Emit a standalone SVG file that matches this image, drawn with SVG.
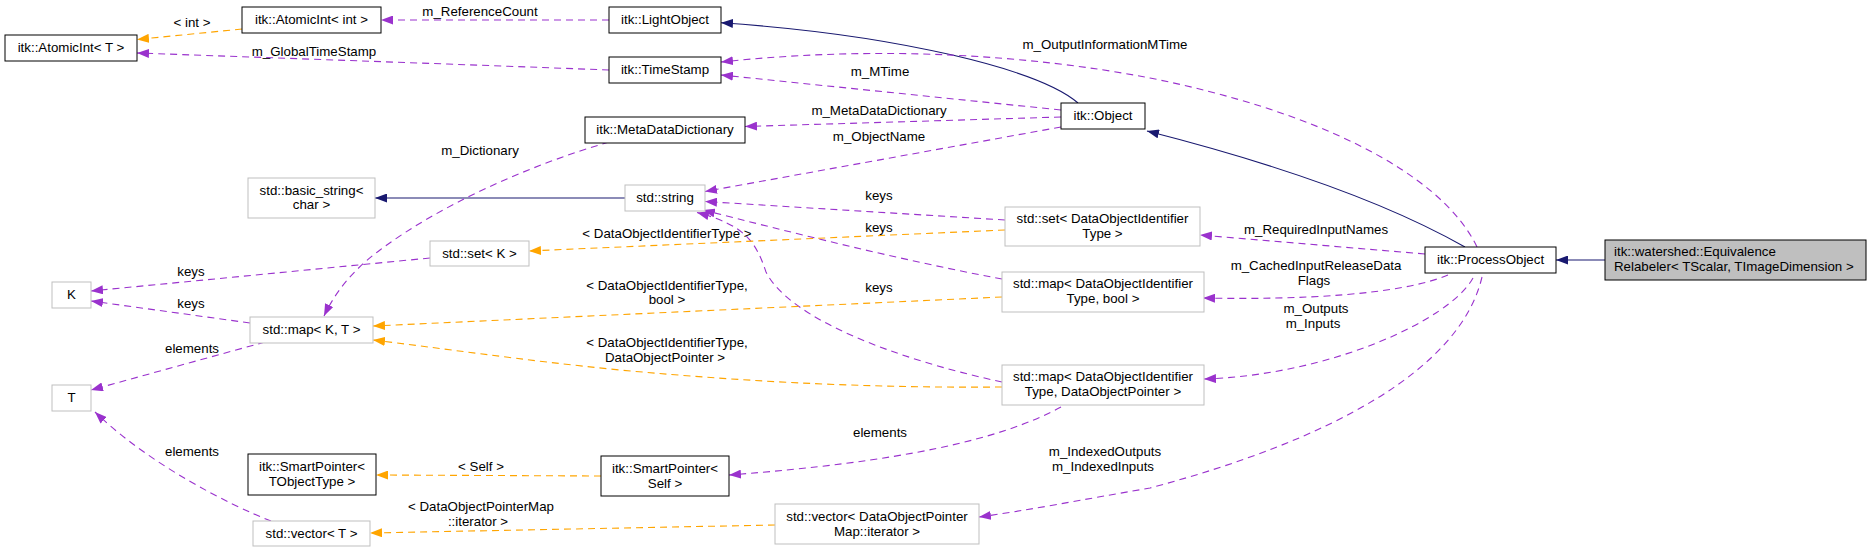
<svg xmlns="http://www.w3.org/2000/svg" width="1871" height="552" viewBox="0 0 1871 552">
<style>
text{font-family:"Liberation Sans",Arial,sans-serif;font-size:13.3px;fill:#000}
.n text{text-anchor:middle}
.doc{fill:#fff;stroke:#000;stroke-width:1}
.und{fill:#fff;stroke:#bfbfbf;stroke-width:1}
.main{fill:#bfbfbf;stroke:#000;stroke-width:1}
.lbl{text-anchor:middle}
.inh{fill:none;stroke:#191970;stroke-width:1.1}
.use{fill:none;stroke:#9a32cd;stroke-width:1.1;stroke-dasharray:7,5}
.tpl{fill:none;stroke:#ffa500;stroke-width:1.1;stroke-dasharray:7,5}
</style>
<defs>
<marker id="an" viewBox="0 0 12 9" refX="12" refY="4.5" markerWidth="12" markerHeight="9" markerUnits="userSpaceOnUse" orient="auto"><path d="M0,0 L12,4.5 L0,9 z" fill="#191970"/></marker>
<marker id="ap" viewBox="0 0 12 9" refX="12" refY="4.5" markerWidth="12" markerHeight="9" markerUnits="userSpaceOnUse" orient="auto"><path d="M0,0 L12,4.5 L0,9 z" fill="#9a32cd"/></marker>
<marker id="ao" viewBox="0 0 12 9" refX="12" refY="4.5" markerWidth="12" markerHeight="9" markerUnits="userSpaceOnUse" orient="auto"><path d="M0,0 L12,4.5 L0,9 z" fill="#ffa500"/></marker>
</defs>
<rect width="1871" height="552" fill="#fff"/>
<g id="connectors">
<path class="tpl" marker-end="url(#ao)" d="M242,29 L137,39.5"/>
<path class="use" marker-end="url(#ap)" d="M609,20 L381,20"/>
<path class="use" marker-end="url(#ap)" d="M609,70 C450,64 250,57 137,53"/>
<path class="inh" marker-end="url(#an)" d="M1078,103 C1040,70 900,35 721,22.7"/>
<path class="use" marker-end="url(#ap)" d="M1061,110 L721,75"/>
<path class="use" marker-end="url(#ap)" d="M1477,247 C1440,170 1310,110 1150,78 C1030,55 880,45 721,62"/>
<path class="use" marker-end="url(#ap)" d="M1061,117 L745,126.5"/>
<path class="use" marker-end="url(#ap)" d="M1061,127 L705,191.5"/>
<path class="inh" marker-end="url(#an)" d="M1465,247 C1400,210 1300,170 1147,131"/>
<path class="inh" marker-end="url(#an)" d="M625,198 L375,198"/>
<path class="use" marker-end="url(#ap)" d="M609,142 C530,165 440,205 380,250 C350,272 334,295 324,316"/>
<path class="use" marker-end="url(#ap)" d="M1005,220 L705,201.5"/>
<path class="use" marker-end="url(#ap)" d="M1002,279 C900,260 790,232 703,210"/>
<path class="use" marker-end="url(#ap)" d="M1002,382 C900,360 790,320 766,272 C756,242 745,225 697,212.5"/>
<path class="tpl" marker-end="url(#ao)" d="M1005,230 L529,251"/>
<path class="use" marker-end="url(#ap)" d="M430,258 L91,291"/>
<path class="use" marker-end="url(#ap)" d="M250,323 L91,301"/>
<path class="tpl" marker-end="url(#ao)" d="M1002,297 L373,326"/>
<path class="tpl" marker-end="url(#ao)" d="M1002,387 C880,388 760,383 620,370 C520,360 440,348 373,340"/>
<path class="use" marker-end="url(#ap)" d="M265,342 L91,390"/>
<path class="use" marker-end="url(#ap)" d="M271,521 C230,505 150,465 95,412"/>
<path class="tpl" marker-end="url(#ao)" d="M601,476 L376,475"/>
<path class="tpl" marker-end="url(#ao)" d="M775,525 L370,533"/>
<path class="use" marker-end="url(#ap)" d="M1061,407 C1000,440 900,462 729,475"/>
<path class="use" marker-end="url(#ap)" d="M1425,254 L1200,235"/>
<path class="use" marker-end="url(#ap)" d="M1448,275 C1400,295 1300,300 1203,298"/>
<path class="use" marker-end="url(#ap)" d="M1473,278 C1450,320 1330,375 1204,379"/>
<path class="use" marker-end="url(#ap)" d="M1482,277 C1460,370 1330,440 1150,488 C1080,500 1030,510 979,517"/>
<path class="inh" marker-end="url(#an)" d="M1605,260 L1556,260"/>
<g class="lbl">
<text x="192" y="27">&lt; int &gt;</text>
<text x="480" y="16">m_ReferenceCount</text>
<text x="314" y="56">m_GlobalTimeStamp</text>
<text x="880" y="76">m_MTime</text>
<text x="1105" y="49">m_OutputInformationMTime</text>
<text x="879" y="115">m_MetaDataDictionary</text>
<text x="879" y="141">m_ObjectName</text>
<text x="480" y="155">m_Dictionary</text>
<text x="879" y="200">keys</text>
<text x="879" y="232">keys</text>
<text x="879" y="292">keys</text>
<text x="667" y="238">&lt; DataObjectIdentifierType &gt;</text>
<text x="191" y="276">keys</text>
<text x="191" y="308">keys</text>
<text x="667" y="289.5">&lt; DataObjectIdentifierType,</text>
<text x="667" y="303.5">bool &gt;</text>
<text x="667" y="346.5">&lt; DataObjectIdentifierType,</text>
<text x="665" y="361.5">DataObjectPointer &gt;</text>
<text x="192" y="352.5">elements</text>
<text x="192" y="455.5">elements</text>
<text x="481" y="471">&lt; Self &gt;</text>
<text x="481" y="511">&lt; DataObjectPointerMap</text>
<text x="478" y="525.5">::iterator &gt;</text>
<text x="880" y="437">elements</text>
<text x="1316" y="233.5">m_RequiredInputNames</text>
<text x="1316" y="269.5">m_CachedInputReleaseData</text>
<text x="1314" y="284.5">Flags</text>
<text x="1316" y="313">m_Outputs</text>
<text x="1313" y="328">m_Inputs</text>
<text x="1105" y="456">m_IndexedOutputs</text>
<text x="1103" y="471">m_IndexedInputs</text>
</g>
</g>
<g class="n">
<g id="atomicint_t"><rect class="doc" x="5" y="35" width="132" height="26"/><text x="71" y="52">itk::AtomicInt&lt; T &gt;</text></g>
<g id="atomicint_int"><rect class="doc" x="242" y="7" width="139" height="26"/><text x="311.5" y="24">itk::AtomicInt&lt; int &gt;</text></g>
<g id="lightobject"><rect class="doc" x="609" y="7" width="112" height="26"/><text x="665" y="24">itk::LightObject</text></g>
<g id="timestamp"><rect class="doc" x="609" y="57" width="112" height="26"/><text x="665" y="74">itk::TimeStamp</text></g>
<g id="metadatadictionary"><rect class="doc" x="585" y="117" width="160" height="26"/><text x="665" y="134">itk::MetaDataDictionary</text></g>
<g id="object"><rect class="doc" x="1061" y="103" width="84" height="26"/><text x="1103" y="120">itk::Object</text></g>
<g id="basic_string"><rect class="und" x="248" y="178" width="127" height="40"/><text x="311.5" y="195">std::basic_string&lt;</text><text x="311.5" y="209">char &gt;</text></g>
<g id="string"><rect class="und" x="625" y="185" width="80" height="26"/><text x="665" y="202">std::string</text></g>
<g id="set_k"><rect class="und" x="430" y="241" width="99" height="25"/><text x="479.5" y="258">std::set&lt; K &gt;</text></g>
<g id="k"><rect class="und" x="52" y="282" width="39" height="26"/><text x="71.5" y="299">K</text></g>
<g id="map_kt"><rect class="und" x="250" y="317" width="123" height="26"/><text x="311.5" y="334">std::map&lt; K, T &gt;</text></g>
<g id="t"><rect class="und" x="52" y="385" width="39" height="26"/><text x="71.5" y="402">T</text></g>
<g id="smartpointer_tobjecttype"><rect class="doc" x="248" y="454" width="128" height="41"/><text x="312" y="471">itk::SmartPointer&lt;</text><text x="312" y="485.5">TObjectType &gt;</text></g>
<g id="vector_t"><rect class="und" x="253" y="521" width="117" height="25"/><text x="311.5" y="537.5">std::vector&lt; T &gt;</text></g>
<g id="smartpointer_self"><rect class="doc" x="601" y="456" width="128" height="40"/><text x="665" y="472.5">itk::SmartPointer&lt;</text><text x="665" y="487.5">Self &gt;</text></g>
<g id="vector_iterator"><rect class="und" x="775" y="504" width="204" height="40"/><text x="877" y="520.5">std::vector&lt; DataObjectPointer</text><text x="877" y="535.5">Map::iterator &gt;</text></g>
<g id="map_dop"><rect class="und" x="1002" y="365" width="202" height="40"/><text x="1103" y="381">std::map&lt; DataObjectIdentifier</text><text x="1103" y="396">Type, DataObjectPointer &gt;</text></g>
<g id="set_doit"><rect class="und" x="1005" y="207" width="195" height="39"/><text x="1102.5" y="223">std::set&lt; DataObjectIdentifier</text><text x="1102.5" y="237.5">Type &gt;</text></g>
<g id="map_bool"><rect class="und" x="1002" y="272" width="202" height="40"/><text x="1103" y="288">std::map&lt; DataObjectIdentifier</text><text x="1103" y="303">Type, bool &gt;</text></g>
<g id="processobject"><rect class="doc" x="1425" y="247" width="131" height="26"/><text x="1490.5" y="264">itk::ProcessObject</text></g>
<g id="equivalencerelabeler"><rect class="main" x="1605" y="240" width="261" height="40"/><text x="1614" y="256" style="text-anchor:start">itk::watershed::Equivalence</text><text x="1614" y="271" style="text-anchor:start">Relabeler&lt; TScalar, TImageDimension &gt;</text></g>
</g>
</svg>
